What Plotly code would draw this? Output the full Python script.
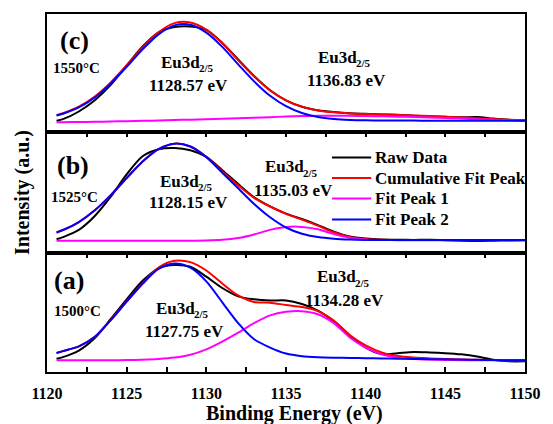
import plotly.graph_objects as go

# Binding energy grid (eV) shared by every curve
energy = [1120.6] + list(range(1121, 1151))

# ---- (a) 1500 C ----
raw_a = [11.1, 12.5, 18.0, 28.5, 44.5, 61.0, 76.5, 87.0, 89.8, 88.3, 80.0, 70.5, 63.5, 61.0, 60.0, 60.0,
         57.0, 51.5, 42.5, 30.5, 20.5, 15.0, 15.8, 16.7, 16.4, 15.8, 14.8, 13.0, 10.3, 9.0, 9.0]
cum_a = [15.9, 17.5, 21.5, 29.5, 43.6, 59.2, 74.5, 87.6, 93.3, 92.2, 85.2, 74.2, 64.2, 58.7, 58.2, 56.2,
         54.5, 51.1, 43.2, 31.0, 22.3, 16.4, 13.4, 12.1, 11.4, 10.9, 10.5, 10.2, 10.0, 9.9, 9.8]
pk1_a = [9.8, 9.8, 9.8, 9.8, 9.9, 10.0, 10.3, 10.9, 12.1, 14.5, 19.0, 25.5, 33.0, 41.0, 47.5, 50.5,
         51.0, 48.5, 41.0, 29.0, 20.5, 14.8, 12.0, 10.9, 10.4, 10.1, 9.9, 9.8, 9.8, 9.8, 9.8]
pk2_a = [15.9, 17.5, 21.5, 29.5, 43.5, 59.0, 74.0, 86.5, 91.0, 87.5, 76.0, 58.5, 41.0, 27.5, 20.5, 15.5,
         13.3, 12.4, 12.0, 11.8, 11.6, 11.4, 11.2, 11.0, 10.8, 10.6, 10.4, 10.2, 10.0, 9.9, 9.8]

# ---- (b) 1525 C ----
raw_b = [11.2, 13.0, 19.0, 30.5, 46.5, 65.0, 80.0, 85.8, 86.9, 85.0, 79.5, 68.5, 57.0, 46.0, 38.5, 32.5,
         28.0, 23.0, 17.5, 13.5, 11.8, 11.0, 10.8, 10.7, 10.8, 10.5, 10.0, 9.8, 10.0, 10.3, 10.4]
cum_b = [16.9, 18.9, 25.5, 35.2, 47.8, 62.0, 75.7, 86.0, 90.5, 88.1, 79.5, 67.5, 56.0, 45.6, 38.4, 32.3,
         27.5, 22.5, 17.0, 13.2, 11.3, 10.8, 10.7, 10.6, 10.6, 10.6, 10.6, 10.6, 10.6, 10.6, 10.6]
pk1_b = [10.1, 10.1, 10.1, 10.1, 10.1, 10.1, 10.1, 10.1, 10.1, 10.1, 10.25, 10.8, 12.3, 15.2, 19.0, 21.4,
         21.5, 19.5, 15.5, 12.5, 11.0, 10.6, 10.5, 10.5, 10.5, 10.5, 10.5, 10.5, 10.5, 10.5, 10.5]
pk2_b = [16.9, 18.9, 25.5, 35.2, 47.8, 62.0, 75.7, 86.0, 90.5, 88.1, 79.3, 66.4, 53.5, 40.5, 29.5, 21.0,
         15.8, 13.1, 11.7, 11.0, 10.7, 10.6, 10.6, 10.6, 10.6, 10.6, 10.6, 10.6, 10.6, 10.6, 10.6]

# ---- (c) 1550 C ----
raw_c = [9.7, 11.0, 17.5, 27.0, 40.0, 56.5, 72.5, 84.5, 89.0, 89.5, 86.5, 75.5, 61.5, 47.5, 35.5, 27.0,
         21.5, 18.5, 17.0, 16.0, 15.5, 15.0, 14.8, 14.0, 13.5, 13.0, 12.6, 12.8, 11.5, 10.5, 10.0]
cum_c = [14.4, 16.0, 21.6, 30.2, 42.1, 56.6, 71.7, 84.6, 92.3, 92.8, 86.8, 75.3, 61.0, 47.1, 35.3, 27.0,
         21.6, 18.4, 16.8, 15.9, 15.4, 15.0, 14.6, 14.1, 13.6, 13.0, 12.4, 11.8, 11.1, 10.5, 10.0]
pk1_c = [8.3, 8.4, 8.6, 8.8, 9.0, 9.3, 9.6, 9.9, 10.3, 10.6, 11.0, 11.4, 11.8, 12.3, 12.7, 13.2,
         13.6, 13.8, 13.9, 13.8, 13.7, 13.4, 13.1, 12.8, 12.4, 12.0, 11.5, 11.0, 10.5, 10.1, 9.8]
pk2_c = [14.1, 15.6, 21.0, 29.4, 41.1, 55.3, 70.1, 82.8, 90.4, 90.9, 84.2, 72.2, 57.4, 43.0, 30.8, 22.0,
         16.2, 12.8, 11.1, 10.3, 10.0, 9.9, 9.8, 9.8, 9.7, 9.7, 9.7, 9.7, 9.7, 9.7, 9.7]

panel_tags = ["(a)", "(b)", "(c)"]
temperatures = ["1500", "1525", "1550"]
peak2_centres = [1127.75, 1128.15, 1128.57]
peak1_centres = [1134.28, 1135.03, 1136.83]

series_names = ["Raw Data", "Cumulative Fit Peak", "Fit Peak 1", "Fit Peak 2"]
series_colors = ["#000000", "#ff0000", "#ff00ff", "#0000ff"]
tick_values = [1120, 1125, 1130, 1135, 1140, 1145, 1150]
tick_labels = ["<b>%d</b>" % v for v in tick_values]

FONT = "Liberation Serif"
X_RANGE = [1120, 1150]
Y_RANGE = [0, 100]
DOMAINS = [[0, 0.3329], [0.3329, 0.6699], [0.6699, 1]]

panels = [
    ("x", "y", [raw_a, cum_a, pk1_a, pk2_a]),
    ("x2", "y2", [raw_b, cum_b, pk1_b, pk2_b]),
    ("x3", "y3", [raw_c, cum_c, pk1_c, pk2_c]),
]

fig = go.Figure()
for xa, ya, curves in panels:
    for name, color, values in zip(series_names, series_colors, curves):
        fig.add_trace(go.Scatter(
            x=energy, y=values, mode="lines", name=name,
            line=dict(color=color, width=2, shape="spline", smoothing=0.8),
            xaxis=xa, yaxis=ya, showlegend=False, hoverinfo="skip"))

axis_line = dict(showline=True, linecolor="black", linewidth=2, showgrid=False, zeroline=False)
minor_ticks = dict(dtick=2.5, tick0=1120, ticks="inside", ticklen=5, tickwidth=1.5,
                   tickcolor="black", showgrid=False)
x_common = dict(range=X_RANGE, tickvals=tick_values, ticktext=tick_labels,
                ticklen=5, tickwidth=1.5, tickcolor="black", **axis_line)
y_common = dict(range=Y_RANGE, ticks="", tickvals=[], showticklabels=False, mirror=True, **axis_line)

fig.update_layout(
    width=553, height=424,
    margin=dict(l=47, r=18, t=13, b=52),
    paper_bgcolor="white", plot_bgcolor="white",
    font=dict(family=FONT, color="black", size=16),
    showlegend=False,
    xaxis=dict(anchor="y", ticks="inside", mirror="ticks", ticklabelstandoff=6, minor=minor_ticks,
               tickfont=dict(size=16, family=FONT, color="black"), **x_common),
    xaxis2=dict(anchor="y2", matches="x", side="top", ticks="inside", mirror=True, minor=minor_ticks,
                showticklabels=False, **x_common),
    xaxis3=dict(anchor="y3", matches="x", ticks="", mirror=True, showticklabels=False, **x_common),
    yaxis=dict(domain=DOMAINS[0], **y_common),
    yaxis2=dict(domain=DOMAINS[1], **y_common),
    yaxis3=dict(domain=DOMAINS[2], **y_common),
)


def to_paper(e, v, panel):
    """Convert (energy, panel-intensity) to paper coordinates."""
    d0, d1 = DOMAINS[panel]
    px = (e - X_RANGE[0]) / (X_RANGE[1] - X_RANGE[0])
    py = d0 + (v - Y_RANGE[0]) / (Y_RANGE[1] - Y_RANGE[0]) * (d1 - d0)
    return px, py


def label(text, e, v, panel, size, anchor="center", dx=0, dy=0):
    px, py = to_paper(e, v, panel)
    fig.add_annotation(text="<b>" + text + "</b>", x=px, y=py, xref="paper", yref="paper",
                       showarrow=False, xanchor=anchor, yanchor="middle", xshift=dx, yshift=dy,
                       borderpad=0, font=dict(family=FONT, size=size, color="black"))


def orbital(e, v, panel):
    # "Eu3d" followed by a lowered, smaller "2/5"
    label("Eu3d", e, v, panel, 17, anchor="right", dx=12)
    label("2/5", e, v, panel, 11, anchor="left", dx=9, dy=-6)


# per-panel text placement: tag, temperature, peak-2 label, peak-1 label
placements = [
    ((1121.4, 76.5), (1121.9, 51.5), (1128.6, 53.6, 34.3), (1138.7, 79.9, 59.8)),
    ((1121.65, 72.7), (1121.75, 46.4), (1128.85, 59.5, 41.3), (1135.45, 71.5, 51.7)),
    ((1121.7, 77.2), (1121.85, 54.0), (1128.9, 59.1, 39.7), (1138.77, 63.3, 43.5)),
]
for i, (tag, temp, p2, p1) in enumerate(placements):
    label(panel_tags[i], tag[0], tag[1], i, 26)
    label(temperatures[i] + "°C", temp[0], temp[1], i, 15)
    orbital(p2[0], p2[1], i)
    label(f"{peak2_centres[i]:.2f} eV", p2[0], p2[2], i, 17)
    orbital(p1[0], p1[1], i)
    label(f"{peak1_centres[i]:.2f} eV", p1[0], p1[2], i, 17)


# legend drawn inside panel (b)
def px_x(px):
    return (px - 47) / 488


def px_y(py):
    return (372 - py) / 359


legend_rows = [157, 177.5, 198, 219]
for name, color, row in zip(series_names, series_colors, legend_rows):
    fig.add_shape(type="line", xref="paper", yref="paper",
                  x0=px_x(338), x1=px_x(378), y0=px_y(row), y1=px_y(row),
                  line=dict(color=color, width=2))
    fig.add_annotation(text="<b>" + name + "</b>", xref="paper", yref="paper", x=px_x(380), y=px_y(row),
                       xanchor="left", yanchor="middle", showarrow=False,
                       font=dict(family=FONT, size=17, color="black"))

# axis titles
fig.add_annotation(text="<b>Binding Energy (eV)</b>", xref="paper", yref="paper",
                   x=px_x(300), y=px_y(414), xanchor="center", yanchor="middle", showarrow=False,
                   font=dict(family=FONT, size=20, color="black"))
fig.add_annotation(text="<b>Intensity (a.u.)</b>", xref="paper", yref="paper",
                   x=px_x(21.5), y=px_y(192.5), xanchor="center", yanchor="middle",
                   textangle=-90, showarrow=False,
                   font=dict(family=FONT, size=20, color="black"))

fig.write_html("out.html")
